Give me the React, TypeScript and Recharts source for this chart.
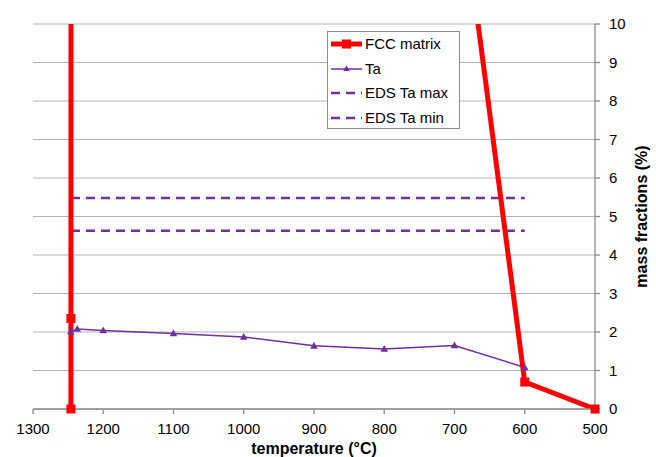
import React from 'react';
import { LineChart, Line, XAxis, YAxis, CartesianGrid, Legend } from 'recharts';

// temperature (°C) / mass fraction (%)
const fccTemps = [1246, 1246, 1245, 700, 600, 500];
const fccValues = [0, 2.35, 85, 14.7, 0.7, 0];

const taTemps = [1246, 1237, 1200, 1100, 1000, 900, 800, 700, 600];
const taValues = [2.01, 2.08, 2.04, 1.96, 1.87, 1.64, 1.56, 1.65, 1.08];

const edsTemps = [1246, 600];
const edsMax = [5.48, 5.48];
const edsMin = [4.63, 4.63];

const xTicks = [1300, 1200, 1100, 1000, 900, 800, 700, 600, 500];
const yTicks = [0, 1, 2, 3, 4, 5, 6, 7, 8, 9, 10];

const fccData = fccTemps.map((t, i) => ({ t, v: fccValues[i] }));
const fccMarkerData = fccData.filter((d) => d.v <= 10);
const taData = taTemps.map((t, i) => ({ t, v: taValues[i] }));
const edsMaxData = edsTemps.map((t, i) => ({ t, v: edsMax[i] }));
const edsMinData = edsTemps.map((t, i) => ({ t, v: edsMin[i] }));

const RED = '#FF0000';
const PURPLE = '#7030A0';
const FONT = '"Liberation Sans", Arial, sans-serif';

const SquareDot = (props: any) => {
  const { cx, cy, key } = props;
  if (cx == null || cy == null) return <g key={key} />;
  return <rect key={key} x={cx - 4.5} y={cy - 4.5} width={9} height={9} fill={RED} />;
};

const TriDot = (props: any) => {
  const { cx, cy, key } = props;
  if (cx == null || cy == null) return <g key={key} />;
  return (
    <path
      key={key}
      d={`M${cx},${cy - 4} L${cx + 3.8},${cy + 2.8} L${cx - 3.8},${cy + 2.8} Z`}
      fill={PURPLE}
    />
  );
};

const legendItems = [
  { name: 'FCC matrix', kind: 'fcc' },
  { name: 'Ta', kind: 'ta' },
  { name: 'EDS Ta max', kind: 'eds' },
  { name: 'EDS Ta min', kind: 'eds' },
];

const LegendBox = () => (
  <div
    style={{
      width: 131,
      height: 96,
      border: '1px solid #8c8c8c',
      background: '#fff',
      fontFamily: FONT,
      fontSize: 15,
      color: '#000',
      boxSizing: 'content-box',
    }}
  >
    {legendItems.map((it, i) => (
      <div
        key={it.name}
        style={{ position: 'absolute', left: 0, top: 1 + i * 24.5, height: 24, display: 'flex', alignItems: 'center' }}
      >
        <svg width={38} height={24} style={{ display: 'block' }}>
          {it.kind === 'fcc' && (
            <g>
              <line x1={4} x2={35} y1={12} y2={12} stroke={RED} strokeWidth={5} />
              <rect x={15} y={7.5} width={9} height={9} fill={RED} />
            </g>
          )}
          {it.kind === 'ta' && (
            <g>
              <line x1={4} x2={35} y1={12} y2={12} stroke={PURPLE} strokeWidth={1.5} />
              <path d="M19.5,8.5 L22.8,14 L16.2,14 Z" fill={PURPLE} />
            </g>
          )}
          {it.kind === 'eds' && (
            <line x1={4} x2={35} y1={12} y2={12} stroke={PURPLE} strokeWidth={2.5} strokeDasharray="9 6" />
          )}
        </svg>
        <span style={{ whiteSpace: 'nowrap', lineHeight: '24px' }}>{it.name}</span>
      </div>
    ))}
  </div>
);

const YLabel = (props: any) => {
  const vb = props.viewBox || {};
  const x = (vb.x ?? 595) + 46;
  const y = (vb.y ?? 24) + (vb.height ?? 385) / 2;
  return (
    <text
      x={x}
      y={y}
      transform={`rotate(-90, ${x}, ${y})`}
      textAnchor="middle"
      dominantBaseline="central"
      fontFamily={FONT}
      fontSize={16}
      fontWeight="bold"
      fill="#000"
    >
      mass fractions (%)
    </text>
  );
};

export default function App() {
  return (
    <div style={{ position: 'absolute', left: 0, top: 0, background: '#fff' }}>
      <LineChart
        width={656}
        height={457}
        margin={{ top: 24, right: 0, bottom: 0, left: 33 }}
        style={{ fontFamily: FONT }}
      >
        <CartesianGrid vertical={false} stroke="#b3b3b3" strokeWidth={1.2} />
        <XAxis
          dataKey="t"
          type="number"
          domain={[500, 1300]}
          ticks={xTicks}
          reversed
          height={48}
          stroke="#8c8c8c"
          strokeWidth={1.3}
          tickSize={5}
          tickMargin={9}
          tick={{ fill: '#000', fontSize: 15, fontFamily: FONT }}
          interval={0}
          label={{
            value: 'temperature (°C)',
            position: 'insideBottom',
            offset: 3,
            style: { fontWeight: 'bold', fontSize: 16, fill: '#000', fontFamily: FONT },
          }}
        />
        <YAxis
          orientation="right"
          type="number"
          domain={[0, 10]}
          ticks={yTicks}
          allowDataOverflow
          width={61}
          stroke="#8c8c8c"
          strokeWidth={1.3}
          tickSize={5}
          tickMargin={9}
          interval={0}
          tick={{ fill: '#000', fontSize: 15, fontFamily: FONT, textAnchor: 'start' }}
          label={<YLabel />}
        />
        <YAxis yAxisId="markers" orientation="right" type="number" domain={[0, 10]} hide />
        <Legend
          layout="horizontal"
          verticalAlign="middle"
          align="center"
          content={<LegendBox />}
          wrapperStyle={{ left: 327, top: 31, width: 133, height: 98, position: 'absolute' }}
        />
        <Line
          data={edsMaxData}
          dataKey="v"
          name="EDS Ta max"
          stroke={PURPLE}
          strokeWidth={2.5}
          strokeDasharray="9 6"
          dot={false}
          activeDot={false}
          isAnimationActive={false}
        />
        <Line
          data={edsMinData}
          dataKey="v"
          name="EDS Ta min"
          stroke={PURPLE}
          strokeWidth={2.5}
          strokeDasharray="9 6"
          dot={false}
          activeDot={false}
          isAnimationActive={false}
        />
        <Line
          data={taData}
          dataKey="v"
          name="Ta"
          stroke={PURPLE}
          strokeWidth={1.5}
          dot={<TriDot />}
          activeDot={false}
          isAnimationActive={false}
        />
        <Line
          data={fccData}
          dataKey="v"
          name="FCC matrix"
          stroke={RED}
          strokeWidth={5}
          dot={false}
          activeDot={false}
          isAnimationActive={false}
        />
        <Line
          yAxisId="markers"
          data={fccMarkerData}
          dataKey="v"
          name="FCC matrix markers"
          stroke="none"
          legendType="none"
          dot={<SquareDot />}
          activeDot={false}
          isAnimationActive={false}
        />
      </LineChart>
    </div>
  );
}
